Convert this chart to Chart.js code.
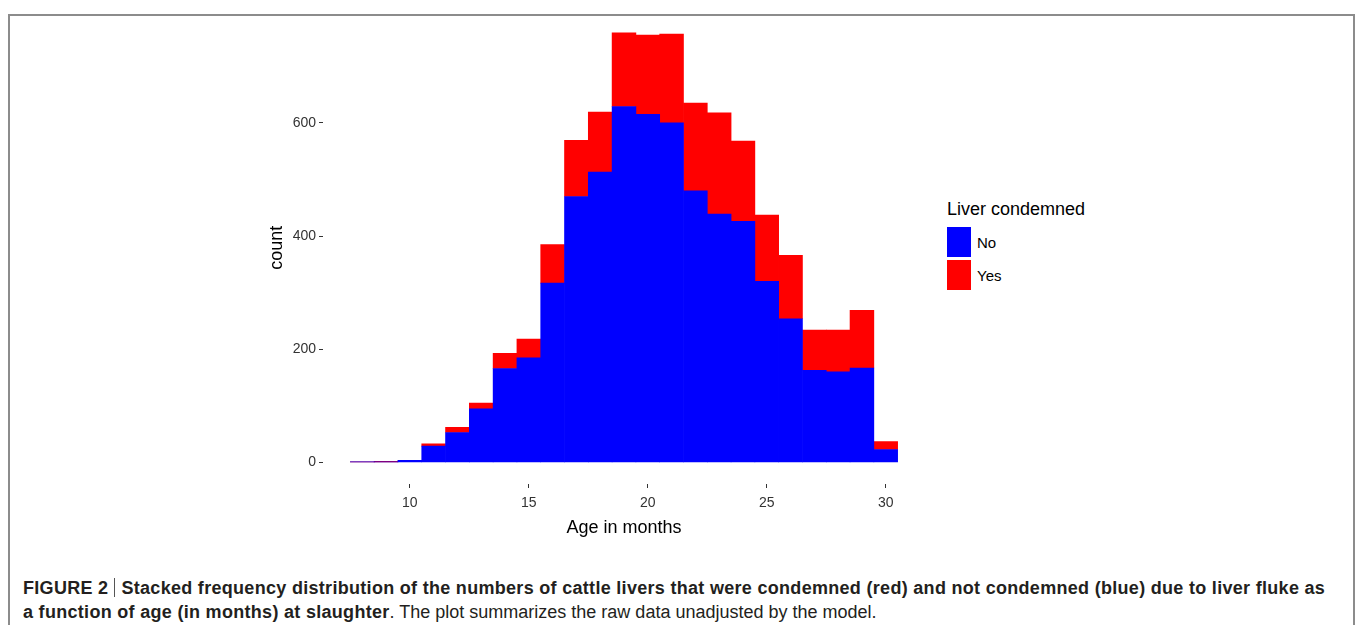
<!DOCTYPE html>
<html>
<head>
<meta charset="utf-8">
<script src="https://cdn.jsdelivr.net/npm/chart.js@4/dist/chart.umd.min.js"></script>
<style>
  html, body { margin: 0; padding: 0; background: #fff; }
  body { width: 1357px; height: 625px; position: relative; overflow: hidden; font-family: "Liberation Sans", Arial, sans-serif; }
  .frame { position: absolute; left: 8px; top: 14px; width: 1347px; height: 700px; border: 2px solid #8c8c8c; box-sizing: border-box; }
  .plot { position: absolute; left: 262px; top: 0; width: 670px; height: 545px; }
  .legend { position: absolute; left: 947px; top: 197px; color: #000; }
  .legend__title { font-size: 18px; line-height: 24px; white-space: nowrap; margin-bottom: 4.5px; }
  .legend__row { display: flex; align-items: center; height: 33px; }
  .legend__key { width: 24px; height: 30px; margin-right: 6px; }
  .legend__label { font-size: 15px; }
  .caption { position: absolute; left: 23px; top: 576px; font-size: 18px; letter-spacing: 0.3px; line-height: 24px; color: #231f20; white-space: nowrap; }
  .caption b { font-weight: bold; }
  .caption .plain { letter-spacing: 0; }
  .caption .sep { display: inline-block; width: 1px; height: 19px; background: #555; margin: 0 6px; vertical-align: -3px; }
</style>
</head>
<body>
<div class="frame"></div>
<div class="plot"><canvas id="age-chart"></canvas></div>
<div class="legend">
  <div class="legend__title">Liver condemned</div>
  <div class="legend__row"><div class="legend__key" style="background:#0000ff"></div><span class="legend__label">No</span></div>
  <div class="legend__row"><div class="legend__key" style="background:#ff0000"></div><span class="legend__label">Yes</span></div>
</div>
<div class="caption">
  <b>FIGURE 2</b><span class="sep"></span><b>Stacked frequency distribution of the numbers of cattle livers that were condemned (red) and not condemned (blue) due to liver fluke as</b><br>
  <b>a function of age (in months) at slaughter</b><span class="plain">. The plot summarizes the raw data unadjusted by the model.</span>
</div>
<script>
const AGE_MONTHS = [8, 9, 10, 11, 12, 13, 14, 15, 16, 17, 18, 19, 20, 21, 22, 23, 24, 25, 26, 27, 28, 29, 30]
const COUNT_NOT_CONDEMNED = [1, 1, 4, 29, 53, 95, 166, 185, 317, 470, 513, 629, 615, 600, 480, 439, 426, 320, 254, 163, 160, 167, 23]
const COUNT_CONDEMNED = [0, 1, 0, 4, 9, 10, 27, 33, 68, 99, 106, 130, 140, 157, 155, 179, 142, 117, 112, 71, 74, 102, 14]
const X_TICKS = [10, 15, 20, 25, 30]
const Y_TICKS = [0, 200, 400, 600]

const COLORS = {
  no: '#0000ff',
  yes: '#ff0000',
  text: '#333333'
}

function toPoints (values) {
  return AGE_MONTHS.map((age, i) => ({ x: age, y: values[i] }))
}

function fixedTicks (list) {
  return scale => { scale.ticks = list.map(value => ({ value })) }
}

(function () {
  let ctx = document.getElementById('age-chart').getContext('2d')

  new Chart(ctx, {
    type: 'bar',
    data: {
      datasets: [
        { label: 'No', data: toPoints(COUNT_NOT_CONDEMNED), backgroundColor: COLORS.no, borderWidth: 0 },
        { label: 'Yes', data: toPoints(COUNT_CONDEMNED), backgroundColor: COLORS.yes, borderWidth: 0 }
      ]
    },
    options: {
      responsive: true,
      maintainAspectRatio: false,
      animation: false,
      barPercentage: 1,
      categoryPercentage: 1,
      layout: { padding: { top: 9, right: 7, bottom: 0, left: 0 } },
      plugins: {
        legend: { display: false },
        tooltip: { enabled: false }
      },
      scales: {
        x: {
          type: 'linear',
          stacked: true,
          min: 6.35,
          max: 31.65,
          offset: false,
          afterBuildTicks: fixedTicks(X_TICKS),
          afterFit: scale => { scale.height = 61 },
          border: { display: false },
          grid: { offset: false, drawOnChartArea: false, drawTicks: true, tickLength: 4, color: COLORS.text },
          ticks: { color: COLORS.text, padding: 7, font: { family: 'Liberation Sans', size: 14 } },
          title: { display: true, text: 'Age in months', color: '#000', padding: { top: 0, bottom: 6 }, font: { family: 'Liberation Sans', size: 18 } }
        },
        y: {
          stacked: true,
          min: -38,
          max: 797,
          afterBuildTicks: fixedTicks(Y_TICKS),
          afterFit: scale => { scale.width = 61 },
          border: { display: false },
          grid: { drawOnChartArea: false, drawTicks: true, tickLength: 4, color: COLORS.text },
          ticks: { color: COLORS.text, padding: 3, font: { family: 'Liberation Sans', size: 14 } },
          title: { display: true, text: 'count', color: '#000', padding: { top: 4, bottom: 0 }, font: { family: 'Liberation Sans', size: 18 } }
        }
      }
    }
  })
})()
</script>
</body>
</html>
